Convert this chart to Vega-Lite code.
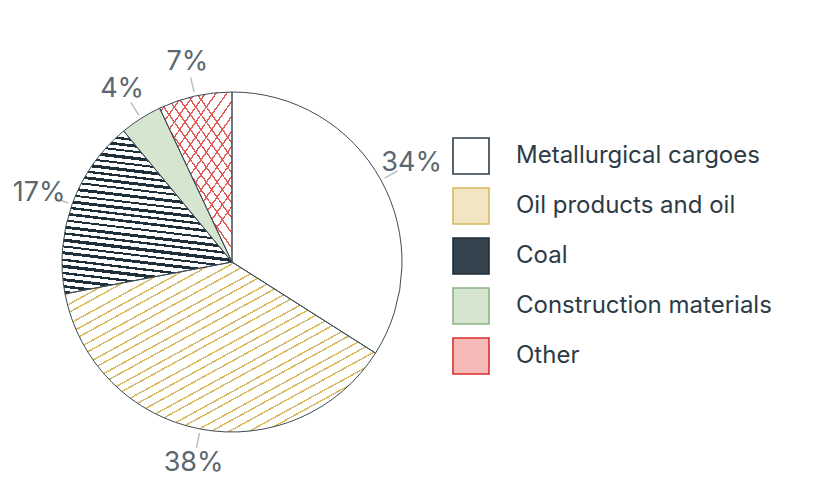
{
  "$schema": "https://vega.github.io/schema/vega-lite/v6.json",
  "width": 464,
  "height": 450,
  "padding": {"left": 0, "top": 37, "right": 10, "bottom": 0},
  "autosize": {"type": "pad"},
  "background": "#ffffff",
  "config": {"view": {"stroke": null}, "font": "Inter"},
  "data": {
    "values": [
      {"category": "Metallurgical cargoes", "share": 0.34, "order": 1},
      {"category": "Oil products and oil", "share": 0.38, "order": 2},
      {"category": "Coal", "share": 0.17, "order": 3},
      {"category": "Construction materials", "share": 0.04, "order": 4},
      {"category": "Other", "share": 0.07, "order": 5}
    ]
  },
  "layer": [
    {
      "mark": {"type": "arc", "radius": 170, "strokeWidth": 0},
      "encoding": {
        "theta": {"field": "share", "type": "quantitative", "stack": true},
        "order": {"field": "order", "type": "quantitative"},
        "stroke": {
          "field": "category",
          "type": "nominal",
          "scale": {
            "domain": ["Metallurgical cargoes", "Oil products and oil", "Coal", "Construction materials", "Other"],
            "range": ["#2e3d47", "#d6b85e", "#1e2e39", "#8db385", "#d9302c"]
          },
          "legend": {
            "title": null,
            "orient": "none",
            "legendX": 452,
            "legendY": 100,
            "padding": 0,
            "symbolType": "square",
            "symbolSize": 1296,
            "symbolStrokeWidth": 1.6,
            "labelFont": "Inter",
            "labelFontSize": 24,
            "labelColor": "#2c3b45",
            "labelOffset": 26,
            "labelLimit": 400,
            "rowPadding": 6
          }
        },
        "fill": {
          "field": "category",
          "type": "nominal",
          "scale": {
            "domain": ["Metallurgical cargoes", "Oil products and oil", "Coal", "Construction materials", "Other"],
            "range": ["#ffffff", "#f1e5c2", "#34434d", "#d6e5d0", "#f5bab7"]
          },
          "legend": {
            "title": null,
            "orient": "none",
            "legendX": 452,
            "legendY": 100,
            "padding": 0,
            "symbolType": "square",
            "symbolSize": 1296,
            "symbolStrokeWidth": 1.6,
            "labelFont": "Inter",
            "labelFontSize": 24,
            "labelColor": "#2c3b45",
            "labelOffset": 26,
            "labelLimit": 400,
            "rowPadding": 6
          },
          "condition": [
            {"test": "datum.category === 'Oil products and oil'", "value": {"gradient": "linear", "x1": 0, "y1": 0, "x2": 1, "y2": 1, "stops": [
              {"offset": 0, "color": "#ffffff"},
              {"offset": 0.012, "color": "#ffffff"}, {"offset": 0.012, "color": "#d8bb63"}, {"offset": 0.017, "color": "#d8bb63"}, {"offset": 0.017, "color": "#ffffff"},
              {"offset": 0.038, "color": "#ffffff"}, {"offset": 0.038, "color": "#d8bb63"}, {"offset": 0.043, "color": "#d8bb63"}, {"offset": 0.043, "color": "#ffffff"},
              {"offset": 0.071, "color": "#ffffff"}, {"offset": 0.071, "color": "#d8bb63"}, {"offset": 0.076, "color": "#d8bb63"}, {"offset": 0.076, "color": "#ffffff"},
              {"offset": 0.095, "color": "#ffffff"}, {"offset": 0.095, "color": "#d8bb63"}, {"offset": 0.100, "color": "#d8bb63"}, {"offset": 0.100, "color": "#ffffff"},
              {"offset": 0.128, "color": "#ffffff"}, {"offset": 0.128, "color": "#d8bb63"}, {"offset": 0.133, "color": "#d8bb63"}, {"offset": 0.133, "color": "#ffffff"},
              {"offset": 0.152, "color": "#ffffff"}, {"offset": 0.152, "color": "#d8bb63"}, {"offset": 0.157, "color": "#d8bb63"}, {"offset": 0.157, "color": "#ffffff"},
              {"offset": 0.186, "color": "#ffffff"}, {"offset": 0.186, "color": "#d8bb63"}, {"offset": 0.191, "color": "#d8bb63"}, {"offset": 0.191, "color": "#ffffff"},
              {"offset": 0.214, "color": "#ffffff"}, {"offset": 0.214, "color": "#d8bb63"}, {"offset": 0.219, "color": "#d8bb63"}, {"offset": 0.219, "color": "#ffffff"},
              {"offset": 0.240, "color": "#ffffff"}, {"offset": 0.240, "color": "#d8bb63"}, {"offset": 0.245, "color": "#d8bb63"}, {"offset": 0.245, "color": "#ffffff"},
              {"offset": 0.272, "color": "#ffffff"}, {"offset": 0.272, "color": "#d8bb63"}, {"offset": 0.277, "color": "#d8bb63"}, {"offset": 0.277, "color": "#ffffff"},
              {"offset": 0.298, "color": "#ffffff"}, {"offset": 0.298, "color": "#d8bb63"}, {"offset": 0.303, "color": "#d8bb63"}, {"offset": 0.303, "color": "#ffffff"},
              {"offset": 0.331, "color": "#ffffff"}, {"offset": 0.331, "color": "#d8bb63"}, {"offset": 0.336, "color": "#d8bb63"}, {"offset": 0.336, "color": "#ffffff"},
              {"offset": 0.356, "color": "#ffffff"}, {"offset": 0.356, "color": "#d8bb63"}, {"offset": 0.361, "color": "#d8bb63"}, {"offset": 0.361, "color": "#ffffff"},
              {"offset": 0.388, "color": "#ffffff"}, {"offset": 0.388, "color": "#d8bb63"}, {"offset": 0.393, "color": "#d8bb63"}, {"offset": 0.393, "color": "#ffffff"},
              {"offset": 0.414, "color": "#ffffff"}, {"offset": 0.414, "color": "#d8bb63"}, {"offset": 0.419, "color": "#d8bb63"}, {"offset": 0.419, "color": "#ffffff"},
              {"offset": 0.446, "color": "#ffffff"}, {"offset": 0.446, "color": "#d8bb63"}, {"offset": 0.451, "color": "#d8bb63"}, {"offset": 0.451, "color": "#ffffff"},
              {"offset": 0.470, "color": "#ffffff"}, {"offset": 0.470, "color": "#d8bb63"}, {"offset": 0.475, "color": "#d8bb63"}, {"offset": 0.475, "color": "#ffffff"},
              {"offset": 0.503, "color": "#ffffff"}, {"offset": 0.503, "color": "#d8bb63"}, {"offset": 0.508, "color": "#d8bb63"}, {"offset": 0.508, "color": "#ffffff"},
              {"offset": 0.530, "color": "#ffffff"}, {"offset": 0.530, "color": "#d8bb63"}, {"offset": 0.535, "color": "#d8bb63"}, {"offset": 0.535, "color": "#ffffff"},
              {"offset": 0.558, "color": "#ffffff"}, {"offset": 0.558, "color": "#d8bb63"}, {"offset": 0.563, "color": "#d8bb63"}, {"offset": 0.563, "color": "#ffffff"},
              {"offset": 0.590, "color": "#ffffff"}, {"offset": 0.590, "color": "#d8bb63"}, {"offset": 0.595, "color": "#d8bb63"}, {"offset": 0.595, "color": "#ffffff"},
              {"offset": 0.615, "color": "#ffffff"}, {"offset": 0.615, "color": "#d8bb63"}, {"offset": 0.620, "color": "#d8bb63"}, {"offset": 0.620, "color": "#ffffff"},
              {"offset": 0.648, "color": "#ffffff"}, {"offset": 0.648, "color": "#d8bb63"}, {"offset": 0.653, "color": "#d8bb63"}, {"offset": 0.653, "color": "#ffffff"},
              {"offset": 0.672, "color": "#ffffff"}, {"offset": 0.672, "color": "#d8bb63"}, {"offset": 0.677, "color": "#d8bb63"}, {"offset": 0.677, "color": "#ffffff"},
              {"offset": 0.705, "color": "#ffffff"}, {"offset": 0.705, "color": "#d8bb63"}, {"offset": 0.710, "color": "#d8bb63"}, {"offset": 0.710, "color": "#ffffff"},
              {"offset": 0.731, "color": "#ffffff"}, {"offset": 0.731, "color": "#d8bb63"}, {"offset": 0.736, "color": "#d8bb63"}, {"offset": 0.736, "color": "#ffffff"},
              {"offset": 0.760, "color": "#ffffff"}, {"offset": 0.760, "color": "#d8bb63"}, {"offset": 0.765, "color": "#d8bb63"}, {"offset": 0.765, "color": "#ffffff"},
              {"offset": 0.792, "color": "#ffffff"}, {"offset": 0.792, "color": "#d8bb63"}, {"offset": 0.797, "color": "#d8bb63"}, {"offset": 0.797, "color": "#ffffff"},
              {"offset": 0.818, "color": "#ffffff"}, {"offset": 0.818, "color": "#d8bb63"}, {"offset": 0.823, "color": "#d8bb63"}, {"offset": 0.823, "color": "#ffffff"},
              {"offset": 0.850, "color": "#ffffff"}, {"offset": 0.850, "color": "#d8bb63"}, {"offset": 0.855, "color": "#d8bb63"}, {"offset": 0.855, "color": "#ffffff"},
              {"offset": 0.874, "color": "#ffffff"}, {"offset": 0.874, "color": "#d8bb63"}, {"offset": 0.879, "color": "#d8bb63"}, {"offset": 0.879, "color": "#ffffff"},
              {"offset": 0.906, "color": "#ffffff"}, {"offset": 0.906, "color": "#d8bb63"}, {"offset": 0.911, "color": "#d8bb63"}, {"offset": 0.911, "color": "#ffffff"},
              {"offset": 0.933, "color": "#ffffff"}, {"offset": 0.933, "color": "#d8bb63"}, {"offset": 0.938, "color": "#d8bb63"}, {"offset": 0.938, "color": "#ffffff"},
              {"offset": 0.962, "color": "#ffffff"}, {"offset": 0.962, "color": "#d8bb63"}, {"offset": 0.967, "color": "#d8bb63"}, {"offset": 0.967, "color": "#ffffff"},
              {"offset": 1, "color": "#ffffff"}
            ]}},
            {"test": "datum.category === 'Coal'", "value": {"gradient": "linear", "x1": 0.125, "y1": 0, "x2": 0, "y2": 1, "stops": [
              {"offset": 0, "color": "#ffffff"},
              {"offset": 0.010, "color": "#ffffff"}, {"offset": 0.010, "color": "#1f2f3a"}, {"offset": 0.024, "color": "#1f2f3a"}, {"offset": 0.024, "color": "#ffffff"},
              {"offset": 0.045, "color": "#ffffff"}, {"offset": 0.045, "color": "#1f2f3a"}, {"offset": 0.062, "color": "#1f2f3a"}, {"offset": 0.062, "color": "#ffffff"},
              {"offset": 0.082, "color": "#ffffff"}, {"offset": 0.082, "color": "#1f2f3a"}, {"offset": 0.094, "color": "#1f2f3a"}, {"offset": 0.094, "color": "#ffffff"},
              {"offset": 0.118, "color": "#ffffff"}, {"offset": 0.118, "color": "#1f2f3a"}, {"offset": 0.138, "color": "#1f2f3a"}, {"offset": 0.138, "color": "#ffffff"},
              {"offset": 0.160, "color": "#ffffff"}, {"offset": 0.160, "color": "#1f2f3a"}, {"offset": 0.172, "color": "#1f2f3a"}, {"offset": 0.172, "color": "#ffffff"},
              {"offset": 0.195, "color": "#ffffff"}, {"offset": 0.195, "color": "#1f2f3a"}, {"offset": 0.214, "color": "#1f2f3a"}, {"offset": 0.214, "color": "#ffffff"},
              {"offset": 0.236, "color": "#ffffff"}, {"offset": 0.236, "color": "#1f2f3a"}, {"offset": 0.250, "color": "#1f2f3a"}, {"offset": 0.250, "color": "#ffffff"},
              {"offset": 0.272, "color": "#ffffff"}, {"offset": 0.272, "color": "#1f2f3a"}, {"offset": 0.290, "color": "#1f2f3a"}, {"offset": 0.290, "color": "#ffffff"},
              {"offset": 0.312, "color": "#ffffff"}, {"offset": 0.312, "color": "#1f2f3a"}, {"offset": 0.324, "color": "#1f2f3a"}, {"offset": 0.324, "color": "#ffffff"},
              {"offset": 0.350, "color": "#ffffff"}, {"offset": 0.350, "color": "#1f2f3a"}, {"offset": 0.368, "color": "#1f2f3a"}, {"offset": 0.368, "color": "#ffffff"},
              {"offset": 0.392, "color": "#ffffff"}, {"offset": 0.392, "color": "#1f2f3a"}, {"offset": 0.404, "color": "#1f2f3a"}, {"offset": 0.404, "color": "#ffffff"},
              {"offset": 0.428, "color": "#ffffff"}, {"offset": 0.428, "color": "#1f2f3a"}, {"offset": 0.446, "color": "#1f2f3a"}, {"offset": 0.446, "color": "#ffffff"},
              {"offset": 0.468, "color": "#ffffff"}, {"offset": 0.468, "color": "#1f2f3a"}, {"offset": 0.482, "color": "#1f2f3a"}, {"offset": 0.482, "color": "#ffffff"},
              {"offset": 0.506, "color": "#ffffff"}, {"offset": 0.506, "color": "#1f2f3a"}, {"offset": 0.522, "color": "#1f2f3a"}, {"offset": 0.522, "color": "#ffffff"},
              {"offset": 0.548, "color": "#ffffff"}, {"offset": 0.548, "color": "#1f2f3a"}, {"offset": 0.560, "color": "#1f2f3a"}, {"offset": 0.560, "color": "#ffffff"},
              {"offset": 0.586, "color": "#ffffff"}, {"offset": 0.586, "color": "#1f2f3a"}, {"offset": 0.604, "color": "#1f2f3a"}, {"offset": 0.604, "color": "#ffffff"},
              {"offset": 0.626, "color": "#ffffff"}, {"offset": 0.626, "color": "#1f2f3a"}, {"offset": 0.640, "color": "#1f2f3a"}, {"offset": 0.640, "color": "#ffffff"},
              {"offset": 0.664, "color": "#ffffff"}, {"offset": 0.664, "color": "#1f2f3a"}, {"offset": 0.684, "color": "#1f2f3a"}, {"offset": 0.684, "color": "#ffffff"},
              {"offset": 0.706, "color": "#ffffff"}, {"offset": 0.706, "color": "#1f2f3a"}, {"offset": 0.718, "color": "#1f2f3a"}, {"offset": 0.718, "color": "#ffffff"},
              {"offset": 0.742, "color": "#ffffff"}, {"offset": 0.742, "color": "#1f2f3a"}, {"offset": 0.760, "color": "#1f2f3a"}, {"offset": 0.760, "color": "#ffffff"},
              {"offset": 0.786, "color": "#ffffff"}, {"offset": 0.786, "color": "#1f2f3a"}, {"offset": 0.800, "color": "#1f2f3a"}, {"offset": 0.800, "color": "#ffffff"},
              {"offset": 0.822, "color": "#ffffff"}, {"offset": 0.822, "color": "#1f2f3a"}, {"offset": 0.842, "color": "#1f2f3a"}, {"offset": 0.842, "color": "#ffffff"},
              {"offset": 0.866, "color": "#ffffff"}, {"offset": 0.866, "color": "#1f2f3a"}, {"offset": 0.880, "color": "#1f2f3a"}, {"offset": 0.880, "color": "#ffffff"},
              {"offset": 0.904, "color": "#ffffff"}, {"offset": 0.904, "color": "#1f2f3a"}, {"offset": 0.922, "color": "#1f2f3a"}, {"offset": 0.922, "color": "#ffffff"},
              {"offset": 0.946, "color": "#ffffff"}, {"offset": 0.946, "color": "#1f2f3a"}, {"offset": 0.962, "color": "#1f2f3a"}, {"offset": 0.962, "color": "#ffffff"},
              {"offset": 0.980, "color": "#ffffff"}, {"offset": 0.980, "color": "#1f2f3a"}, {"offset": 0.994, "color": "#1f2f3a"}, {"offset": 0.994, "color": "#ffffff"},
              {"offset": 1, "color": "#ffffff"}
            ]}},
            {"test": "datum.category === 'Other'", "value": {"gradient": "linear", "x1": 0, "y1": 0, "x2": 0.6, "y2": 1, "stops": [
              {"offset": 0, "color": "#ffffff"},
              {"offset": 0.020, "color": "#ffffff"}, {"offset": 0.020, "color": "#e25a56"}, {"offset": 0.030, "color": "#e25a56"}, {"offset": 0.030, "color": "#ffffff"},
              {"offset": 0.085, "color": "#ffffff"}, {"offset": 0.085, "color": "#e25a56"}, {"offset": 0.095, "color": "#e25a56"}, {"offset": 0.095, "color": "#ffffff"},
              {"offset": 0.150, "color": "#ffffff"}, {"offset": 0.150, "color": "#e25a56"}, {"offset": 0.160, "color": "#e25a56"}, {"offset": 0.160, "color": "#ffffff"},
              {"offset": 0.215, "color": "#ffffff"}, {"offset": 0.215, "color": "#e25a56"}, {"offset": 0.225, "color": "#e25a56"}, {"offset": 0.225, "color": "#ffffff"},
              {"offset": 0.280, "color": "#ffffff"}, {"offset": 0.280, "color": "#e25a56"}, {"offset": 0.290, "color": "#e25a56"}, {"offset": 0.290, "color": "#ffffff"},
              {"offset": 0.345, "color": "#ffffff"}, {"offset": 0.345, "color": "#e25a56"}, {"offset": 0.355, "color": "#e25a56"}, {"offset": 0.355, "color": "#ffffff"},
              {"offset": 0.410, "color": "#ffffff"}, {"offset": 0.410, "color": "#e25a56"}, {"offset": 0.420, "color": "#e25a56"}, {"offset": 0.420, "color": "#ffffff"},
              {"offset": 0.475, "color": "#ffffff"}, {"offset": 0.475, "color": "#e25a56"}, {"offset": 0.485, "color": "#e25a56"}, {"offset": 0.485, "color": "#ffffff"},
              {"offset": 0.540, "color": "#ffffff"}, {"offset": 0.540, "color": "#e25a56"}, {"offset": 0.550, "color": "#e25a56"}, {"offset": 0.550, "color": "#ffffff"},
              {"offset": 0.605, "color": "#ffffff"}, {"offset": 0.605, "color": "#e25a56"}, {"offset": 0.615, "color": "#e25a56"}, {"offset": 0.615, "color": "#ffffff"},
              {"offset": 0.670, "color": "#ffffff"}, {"offset": 0.670, "color": "#e25a56"}, {"offset": 0.680, "color": "#e25a56"}, {"offset": 0.680, "color": "#ffffff"},
              {"offset": 0.735, "color": "#ffffff"}, {"offset": 0.735, "color": "#e25a56"}, {"offset": 0.745, "color": "#e25a56"}, {"offset": 0.745, "color": "#ffffff"},
              {"offset": 0.800, "color": "#ffffff"}, {"offset": 0.800, "color": "#e25a56"}, {"offset": 0.810, "color": "#e25a56"}, {"offset": 0.810, "color": "#ffffff"},
              {"offset": 0.865, "color": "#ffffff"}, {"offset": 0.865, "color": "#e25a56"}, {"offset": 0.875, "color": "#e25a56"}, {"offset": 0.875, "color": "#ffffff"},
              {"offset": 0.930, "color": "#ffffff"}, {"offset": 0.930, "color": "#e25a56"}, {"offset": 0.940, "color": "#e25a56"}, {"offset": 0.940, "color": "#ffffff"},
              {"offset": 1, "color": "#ffffff"}
            ]}}
          ]
        }
      }
    },
    {
      "mark": {"type": "arc", "radius": 170, "strokeWidth": 0},
      "encoding": {
        "theta": {"field": "share", "type": "quantitative", "stack": true},
        "order": {"field": "order", "type": "quantitative"},
        "detail": {"field": "category"},
        "fill": {
          "condition": {"test": "datum.category === 'Other'", "value": {"gradient": "linear", "x1": 0, "y1": 1, "x2": 0.6, "y2": 0, "stops": [
            {"offset": 0, "color": "rgba(255,255,255,0)"},
            {"offset": 0.040, "color": "rgba(255,255,255,0)"}, {"offset": 0.040, "color": "#e25a56"}, {"offset": 0.050, "color": "#e25a56"}, {"offset": 0.050, "color": "rgba(255,255,255,0)"},
            {"offset": 0.105, "color": "rgba(255,255,255,0)"}, {"offset": 0.105, "color": "#e25a56"}, {"offset": 0.115, "color": "#e25a56"}, {"offset": 0.115, "color": "rgba(255,255,255,0)"},
            {"offset": 0.170, "color": "rgba(255,255,255,0)"}, {"offset": 0.170, "color": "#e25a56"}, {"offset": 0.180, "color": "#e25a56"}, {"offset": 0.180, "color": "rgba(255,255,255,0)"},
            {"offset": 0.235, "color": "rgba(255,255,255,0)"}, {"offset": 0.235, "color": "#e25a56"}, {"offset": 0.245, "color": "#e25a56"}, {"offset": 0.245, "color": "rgba(255,255,255,0)"},
            {"offset": 0.300, "color": "rgba(255,255,255,0)"}, {"offset": 0.300, "color": "#e25a56"}, {"offset": 0.310, "color": "#e25a56"}, {"offset": 0.310, "color": "rgba(255,255,255,0)"},
            {"offset": 0.365, "color": "rgba(255,255,255,0)"}, {"offset": 0.365, "color": "#e25a56"}, {"offset": 0.375, "color": "#e25a56"}, {"offset": 0.375, "color": "rgba(255,255,255,0)"},
            {"offset": 0.430, "color": "rgba(255,255,255,0)"}, {"offset": 0.430, "color": "#e25a56"}, {"offset": 0.440, "color": "#e25a56"}, {"offset": 0.440, "color": "rgba(255,255,255,0)"},
            {"offset": 0.495, "color": "rgba(255,255,255,0)"}, {"offset": 0.495, "color": "#e25a56"}, {"offset": 0.505, "color": "#e25a56"}, {"offset": 0.505, "color": "rgba(255,255,255,0)"},
            {"offset": 0.560, "color": "rgba(255,255,255,0)"}, {"offset": 0.560, "color": "#e25a56"}, {"offset": 0.570, "color": "#e25a56"}, {"offset": 0.570, "color": "rgba(255,255,255,0)"},
            {"offset": 0.625, "color": "rgba(255,255,255,0)"}, {"offset": 0.625, "color": "#e25a56"}, {"offset": 0.635, "color": "#e25a56"}, {"offset": 0.635, "color": "rgba(255,255,255,0)"},
            {"offset": 0.690, "color": "rgba(255,255,255,0)"}, {"offset": 0.690, "color": "#e25a56"}, {"offset": 0.700, "color": "#e25a56"}, {"offset": 0.700, "color": "rgba(255,255,255,0)"},
            {"offset": 0.755, "color": "rgba(255,255,255,0)"}, {"offset": 0.755, "color": "#e25a56"}, {"offset": 0.765, "color": "#e25a56"}, {"offset": 0.765, "color": "rgba(255,255,255,0)"},
            {"offset": 0.820, "color": "rgba(255,255,255,0)"}, {"offset": 0.820, "color": "#e25a56"}, {"offset": 0.830, "color": "#e25a56"}, {"offset": 0.830, "color": "rgba(255,255,255,0)"},
            {"offset": 0.885, "color": "rgba(255,255,255,0)"}, {"offset": 0.885, "color": "#e25a56"}, {"offset": 0.895, "color": "#e25a56"}, {"offset": 0.895, "color": "rgba(255,255,255,0)"},
            {"offset": 0.950, "color": "rgba(255,255,255,0)"}, {"offset": 0.950, "color": "#e25a56"}, {"offset": 0.960, "color": "#e25a56"}, {"offset": 0.960, "color": "rgba(255,255,255,0)"},
            {"offset": 1, "color": "rgba(255,255,255,0)"}
          ]}},
          "value": "transparent"
        }
      }
    },
    {
      "mark": {"type": "arc", "radius": 170, "filled": false, "stroke": "#3d4b54", "strokeWidth": 1},
      "encoding": {
        "theta": {"field": "share", "type": "quantitative", "stack": true},
        "order": {"field": "order", "type": "quantitative"},
        "detail": {"field": "category"}
      }
    },
    {
      "mark": {"type": "arc", "radius": 189, "radius2": 174, "padAngle": 3.1, "filled": false, "stroke": "#b6c0c5", "strokeWidth": 1.5},
      "encoding": {
        "theta": {"field": "share", "type": "quantitative", "stack": true},
        "order": {"field": "order", "type": "quantitative"},
        "detail": {"field": "category"}
      }
    },
    {
      "mark": {"type": "text", "radius": 205, "font": "Inter", "fontSize": 27, "color": "#5b6870", "align": "center", "baseline": "middle"},
      "encoding": {
        "theta": {"field": "share", "type": "quantitative", "stack": true},
        "order": {"field": "order", "type": "quantitative"},
        "detail": {"field": "category"},
        "text": {"field": "share", "type": "quantitative", "format": ".0%"}
      }
    }
  ]
}
